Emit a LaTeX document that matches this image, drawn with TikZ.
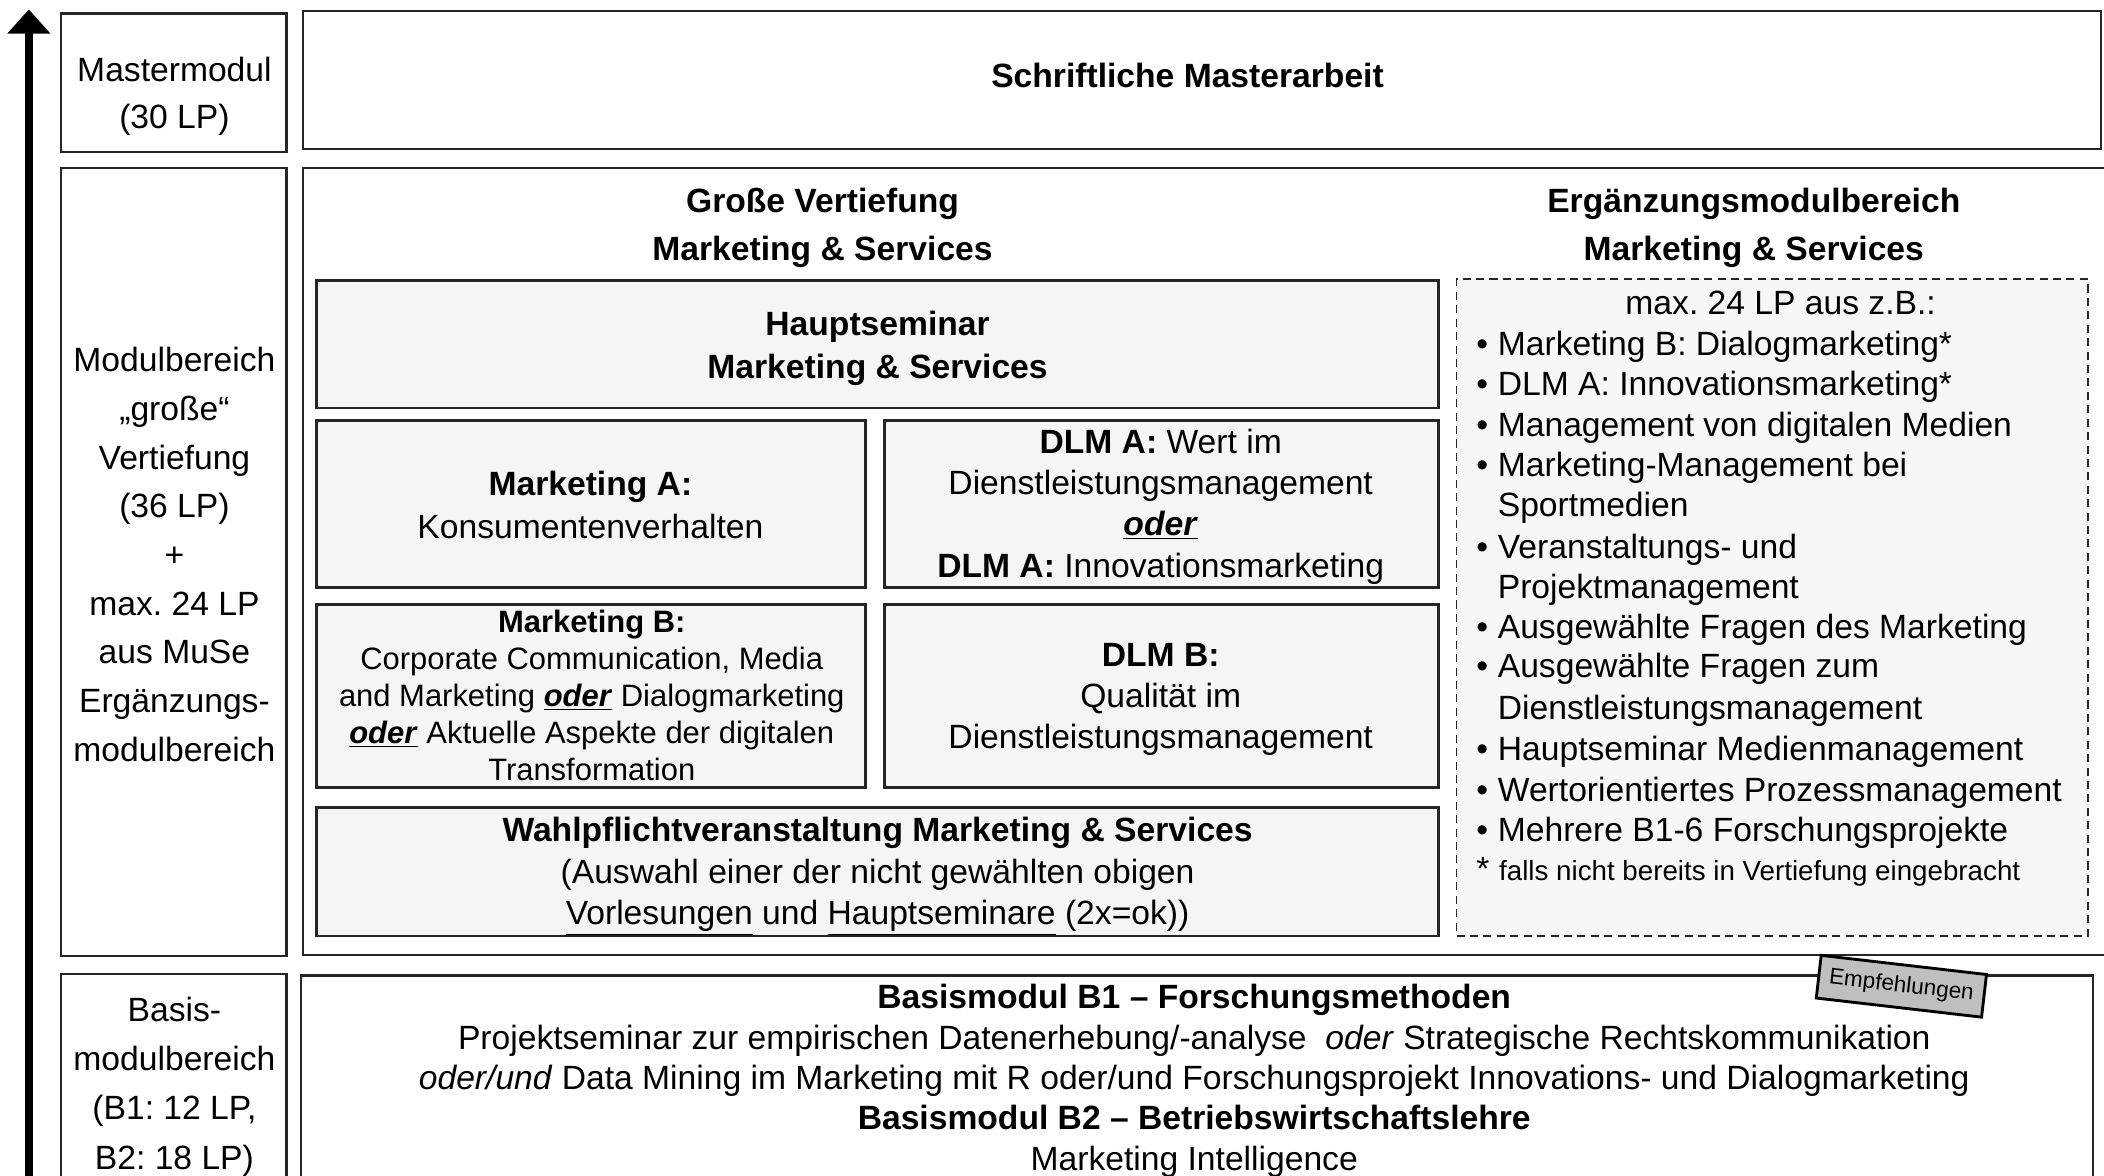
\documentclass[tikz,border=0pt]{standalone}
\usepackage{fontspec}
\setmainfont{Liberation Sans}
\usetikzlibrary{arrows.meta,fit}
\newcommand{\odr}{\underline{\textbf{\textit{oder}}}}
\frenchspacing
\begin{document}
\begin{tikzpicture}[x=0.75pt,y=-0.75pt,
  outerbox/.style={draw=black!85, line width=1.2pt, inner sep=0pt},
  innerbox/.style={draw=black!85, line width=1.5pt, fill=black!4, inner sep=0pt},
  dashbox/.style={draw=black!85, line width=1pt, dash pattern=on 4.5pt off 3pt, fill=black!3, inner sep=0pt},
  txt/.style={align=center, inner sep=0pt, yshift=-2.2pt, font=\frenchspacing\fontsize{18.8}{#1}\selectfont},
  txt/.default=27,
  lst/.style={anchor=base west, inner sep=0pt, yshift=-0.8pt, font=\frenchspacing\fontsize{18.8}{22}\selectfont},
  tag/.style={draw=black, line width=1.6pt, fill=black!25, inner sep=0pt,
    minimum width=93pt, minimum height=24pt, font=\fontsize{12.6}{14}\selectfont}
]
\path[use as bounding box, clip] (0,0) rectangle (1568,876);
\fill[white] (0,0) rectangle (1568,876);

% arrow
\coordinate (abot) at (21.5,900);
\coordinate (atop) at (21.5,7);
\draw[line width=4.5pt, -{Triangle[width=23.25pt,length=13.5pt]}] (abot) -- (atop);

% outer boxes
\node[outerbox, fit={(45.5,10) (213.5,113.5)}] (mm) {};
\node[outerbox, fit={(226,8) (1566,111)}] (sm) {};
\node[outerbox, fit={(45.5,125.5) (213.5,712.5)}] (mb) {};
\node[outerbox, fit={(226,125) (1580,711.5)}] (mid) {};
\node[outerbox, fit={(45.5,726) (213.5,900)}] (bl) {};
\node[outerbox, fit={(224,727) (1559.5,900)}] (br) {};

% inner boxes
\node[innerbox, fit={(236,209) (1072,304)}] (hs) {};
\node[innerbox, fit={(236,313.5) (645,438)}] (ma) {};
\node[innerbox, fit={(659,313.5) (1072,438)}] (da) {};
\node[innerbox, fit={(236,450.5) (645,587)}] (mbb) {};
\node[innerbox, fit={(659,450.5) (1072,587)}] (db) {};
\node[innerbox, fit={(236,602) (1072,697.5)}] (wp) {};
\node[dashbox, fit={(1085.5,208) (1556,697.5)}] (eb) {};

% texts left column
\node[txt=26.25] (tmm) at (130,68.5) {\strut Mastermodul\\(30 LP)\strut};
\node[txt=27.2] (tmb) at (130,412) {\strut Modulbereich\\„große“\\Vertiefung\\(36 LP)\\+\\max. 24 LP\\aus MuSe\\Ergänzungs-\\modulbereich\strut};
\node[txt=27.5] (tbl) at (130,806) {\strut Basis-\\modulbereich\\(B1: 12 LP,\\B2: 18 LP)\strut};

% top
\node[txt] (tsm) at (885,55) {\strut\textbf{Schriftliche Masterarbeit}\strut};

% middle headings
\node[txt] (tgv) at (613,166) {\strut\textbf{Große Vertiefung}\\\textbf{Marketing \& Services}\strut};
\node[txt] (teg) at (1307,166) {\strut\textbf{Ergänzungsmodulbereich}\\\textbf{Marketing \& Services}\strut};

\node[txt=24] (ths) at (654,257) {\strut\textbf{Hauptseminar}\\\textbf{Marketing \& Services}\strut};
\node[txt=24] (tma) at (440,376) {\strut\textbf{Marketing A:}\\Konsumentenverhalten\strut};
\node[txt=23] (tda) at (865,375) {\strut\textbf{DLM A:} Wert im\\Dienstleistungsmanagement\\\odr\\\textbf{DLM A:} Innovationsmarketing\strut};
\node[align=center, inner sep=0pt, yshift=-2.2pt, font=\frenchspacing\fontsize{17.3}{20.6}\selectfont] (tmbb) at (441,518)
  {\strut\textbf{Marketing B:}\\Corporate Communication, Media\\and Marketing \odr{} Dialogmarketing\\\odr{} Aktuelle Aspekte der digitalen\\Transformation\strut};
\node[txt=22.9] (tdb) at (865,518.5) {\strut\textbf{DLM B:}\\Qualität im\\Dienstleistungsmanagement\strut};
\node[txt=23.2] (twp) at (654,649) {\strut\textbf{Wahlpflichtveranstaltung Marketing \& Services}\\(Auswahl einer der nicht gewählten obigen\\\underline{Vorlesungen} und \underline{Hauptseminare} (2x=ok))\strut};

% list
\node[txt] (tmax) at (1327,224) {\strut max. 24 LP aus z.B.:\strut};
\node[lst] (b1)  at (1100,264) {•};
\node[lst] (l1)  at (1116,264) {Marketing B: Dialogmarketing*};
\node[lst] (b2)  at (1100,294) {•};
\node[lst] (l2)  at (1116,294) {DLM A: Innovationsmarketing*};
\node[lst] (b3)  at (1100,324) {•};
\node[lst] (l3)  at (1116,324) {Management von digitalen Medien};
\node[lst] (b4)  at (1100,354) {•};
\node[lst] (l4)  at (1116,354) {Marketing-Management bei};
\node[lst] (l4b) at (1116,384) {Sportmedien};
\node[lst] (b5)  at (1100,415) {•};
\node[lst] (l5)  at (1116,415) {Veranstaltungs- und};
\node[lst] (l5b) at (1116,445) {Projektmanagement};
\node[lst] (b6)  at (1100,475) {•};
\node[lst] (l6)  at (1116,475) {Ausgewählte Fragen des Marketing};
\node[lst] (b7)  at (1100,504) {•};
\node[lst] (l7)  at (1116,504) {Ausgewählte Fragen zum};
\node[lst] (l7b) at (1116,535) {Dienstleistungsmanagement};
\node[lst] (b8)  at (1100,566) {•};
\node[lst] (l8)  at (1116,566) {Hauptseminar Medienmanagement};
\node[lst] (b9)  at (1100,596) {•};
\node[lst] (l9)  at (1116,596) {Wertorientiertes Prozessmanagement};
\node[lst] (b10) at (1100,626) {•};
\node[lst] (l10) at (1116,626) {Mehrere B1-6 Forschungsprojekte};
\node[lst, font=\fontsize{18.8}{22}\selectfont] (fst) at (1100,655) {*};
\node[lst, font=\fontsize{15.5}{18}\selectfont] (fn) at (1117,655) {falls nicht bereits in Vertiefung eingebracht};

% bottom
\node[txt=22.5] (tbr) at (890,803) {\strut\textbf{Basismodul B1 – Forschungsmethoden}\\Projektseminar zur empirischen Datenerhebung/-analyse\ \ \textit{oder} Strategische Rechtskommunikation\\\textit{oder/und} Data Mining im Marketing mit R oder/und Forschungsprojekt Innovations- und Dialogmarketing\\\textbf{Basismodul B2 – Betriebswirtschaftslehre}\\Marketing Intelligence\strut};

% tag
\node[tag, rotate=-6.6] (emp) at (1417,735) {Empfehlungen};
\end{tikzpicture}
\end{document}
